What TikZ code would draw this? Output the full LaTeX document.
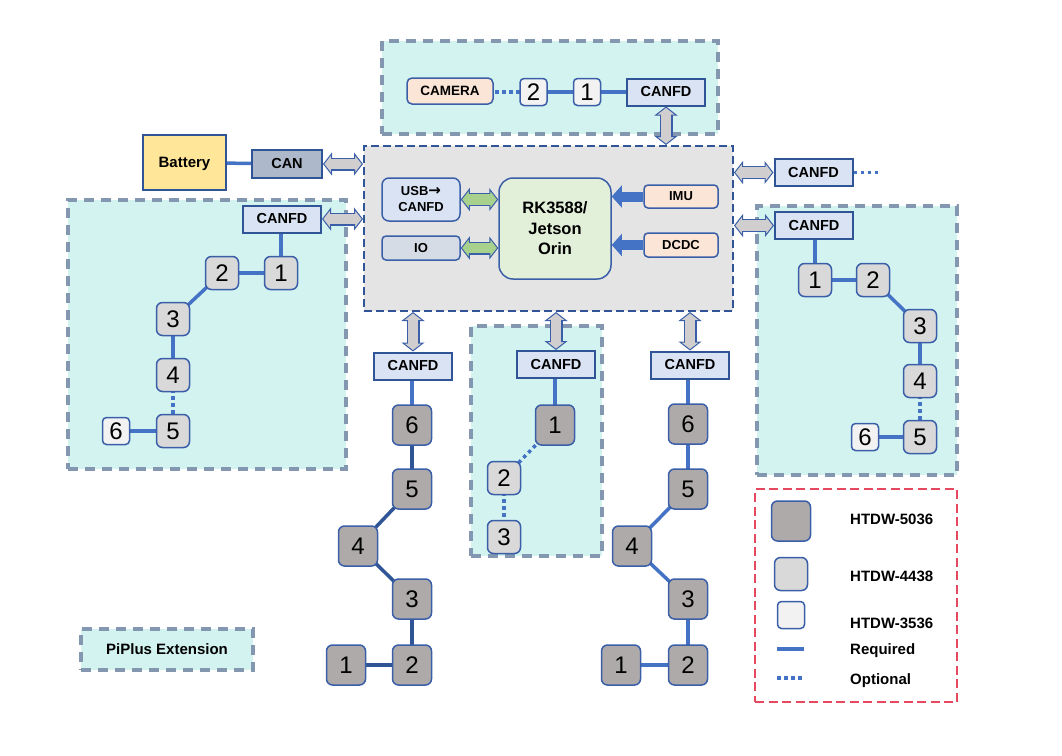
\documentclass[tikz,border=0pt]{standalone}
\usepackage{fontspec}
\setmainfont{Liberation Sans}
\newfontfamily\arrowfont{DejaVu Sans}
\usepackage{xcolor}
\usetikzlibrary{
  positioning,
  arrows.meta
}
\definecolor{edgeblue}{HTML}{3A5FA8}
\definecolor{linkblue}{HTML}{4472C4}
\definecolor{linkdark}{HTML}{2F5597}
\definecolor{zonefill}{HTML}{D3F3F0}
\definecolor{zonedash}{HTML}{8497B0}
\definecolor{coregray}{HTML}{E4E4E4}
\definecolor{legendred}{HTML}{E6495F}
\definecolor{busfill}{HTML}{DAE3F3}
\definecolor{iofill}{HTML}{D6DCE5}
\definecolor{canfill}{HTML}{ADB9CA}
\definecolor{socfill}{HTML}{E2F0D9}
\definecolor{peach}{HTML}{FBE5D6}
\definecolor{batteryfill}{HTML}{FFE699}
\definecolor{bigfill}{HTML}{AEAAAA}
\definecolor{midfill}{HTML}{D9D9D9}
\definecolor{smallfill}{HTML}{F2F2F2}
\definecolor{portgray}{HTML}{D0CECE}
\definecolor{portgreen}{HTML}{A9D18E}
\pgfdeclarelayer{zones}
\pgfdeclarelayer{links}
\pgfsetlayers{zones,links,main}

\begin{document}
\begin{tikzpicture}[
      x=1pt, y=-1pt,
      node distance=64pt,
      zone/.style={rectangle, draw=zonedash, fill=zonefill, line width=3.5pt, dash pattern=on 10pt off 7pt, inner sep=0pt},
      busbox/.style={rectangle, draw=linkdark, fill=busfill, line width=2pt, minimum width=78pt, minimum height=27pt, inner sep=0pt, font=\fontsize{14.5}{16}\bfseries},
      unit/.style={rectangle, rounded corners=4pt, draw=edgeblue, line width=1.5pt, inner sep=0pt, align=center, font=\fontsize{13}{16}\bfseries},
      bigjoint/.style={rectangle, rounded corners=6pt, draw=edgeblue, fill=bigfill, line width=1.5pt, minimum width=39pt, minimum height=40pt, inner sep=0pt, font=\fontsize{24}{26}\selectfont},
      midjoint/.style={bigjoint, fill=midfill, minimum width=33pt, minimum height=33pt},
      smalljoint/.style={bigjoint, rounded corners=4pt, fill=smallfill, minimum width=27pt, minimum height=27pt},
      required/.style={draw=linkblue, line width=3.5pt},
      requireddark/.style={draw=linkdark, line width=3.5pt},
      optional/.style={draw=linkblue, line width=3.5pt, dash pattern=on 3.5pt off 3.5pt},
      duplex/.style={draw=edgeblue, line width=13pt,
        {Triangle[length=9pt,width=23pt,fill=#1,line width=1pt]}-{Triangle[length=9pt,width=23pt,fill=#1,line width=1pt]},
        postaction={draw=#1, line width=10.5pt, -, shorten >=7pt, shorten <=7pt}},
      oneway/.style={draw=linkblue, line width=10pt, -{Triangle[length=10pt,width=22pt,fill=linkblue,line width=1pt]}},
      keylabel/.style={anchor=west, inner sep=0pt, font=\fontsize{15}{16}\bfseries}
    ]
      \useasboundingbox (0,0) rectangle (1062,755);

      % Zones
      \begin{pgfonlayer}{zones}
      \node[zone, minimum width=336pt, minimum height=93pt] (topzone) at (550,87.5) {};
      \node[zone, minimum width=278pt, minimum height=269pt] (leftzone) at (207,334.5) {};
      \node[zone, minimum width=200pt, minimum height=269pt] (rightzone) at (857,340.5) {};
      \node[zone, minimum width=131pt, minimum height=230pt] (midzone) at (536.5,441) {};
      \node[zone, minimum width=172pt, minimum height=41pt, font=\fontsize{15}{16}\bfseries] (extzone) at (167,649.5) {PiPlus Extension};
      \node[rectangle, draw=linkdark, fill=coregray, line width=2pt, dash pattern=on 8pt off 4pt, minimum width=369pt, minimum height=165pt] (core) at (548.5,228.5) {};
      \node[rectangle, draw=legendred, line width=2pt, dash pattern=on 9pt off 4.5pt, minimum width=202pt, minimum height=213pt] (legend) at (856,595.5) {};
      \end{pgfonlayer}

      % Core units
      \node[unit, rounded corners=14pt, fill=socfill, minimum width=112pt, minimum height=101pt, font=\fontsize{16.5}{20.5}\bfseries] (soc) at (555,228.5) {RK3588/\\Jetson\\Orin};
      \node[unit, rounded corners=7pt, fill=busfill, minimum width=78pt, minimum height=43pt] (usb) at (421,199.5) {USB{\arrowfont\fontsize{15}{16}\selectfont→}\\CANFD};
      \node[unit, fill=iofill, minimum width=78pt, minimum height=24pt] (io) at (421,248) {IO};
      \node[unit, fill=peach, minimum width=74pt, minimum height=23pt] (imu) at (681,196.5) {IMU};
      \node[unit, fill=peach, minimum width=74pt, minimum height=24pt] (dcdc) at (681,245) {DCDC};

      % Top chain
      \node[busbox] (bustop) at (666,92) {CANFD};
      \node[smalljoint] (t1) at (587,92) {1};
      \node[smalljoint] (t2) at (533.5,92) {2};
      \node[unit, rounded corners=5pt, fill=peach, minimum width=86pt, minimum height=26pt, font=\fontsize{13.5}{16}\bfseries] (camera) at (450,91) {CAMERA};

      % Battery
      \node[rectangle, draw=linkdark, fill=batteryfill, line width=2pt, minimum width=83pt, minimum height=55pt, text depth=0pt, font=\fontsize{15}{16}\bfseries] (battery) at (184.5,162.5) {Battery};
      \node[busbox, fill=canfill, minimum width=70pt, minimum height=28pt] (can) at (287,164) {CAN};

      % Left arm
      \node[busbox] (busleft) at (282,219) {CANFD};
      \node[midjoint] (l1) at (281,273) {1};
      \node[midjoint] (l2) at (222,273) {2};
      \node[midjoint] (l3) at (173,319) {3};
      \node[midjoint] (l4) at (173,375) {4};
      \node[midjoint] (l5) at (173,431) {5};
      \node[smalljoint] (l6) at (116,431) {6};

      % Right arm
      \node[busbox] (busaux) at (813.5,172.5) {CANFD};
      \coordinate (auxend) at (881,172.5);
      \node[busbox] (busright) at (814,225.5) {CANFD};
      \node[midjoint] (r1) at (815,280) {1};
      \node[midjoint] (r2) at (873,280) {2};
      \node[midjoint] (r3) at (920,326) {3};
      \node[midjoint] (r4) at (920,381) {4};
      \node[midjoint] (r5) at (920,437) {5};
      \node[smalljoint] (r6) at (865,437) {6};

      % Left leg
      \node[busbox] (busa) at (413,366) {CANFD};
      \node[bigjoint] (a6) at (412,425) {6};
      \node[bigjoint, below of=a6] (a5) {5};
      \node[bigjoint] (a4) at (358,546) {4};
      \node[bigjoint] (a3) at (412,599) {3};
      \node[bigjoint, below of=a3, node distance=66pt] (a2) {2};
      \node[bigjoint, left of=a2, node distance=66pt] (a1) {1};

      % Waist
      \node[busbox] (busw) at (556,364.5) {CANFD};
      \node[bigjoint] (w1) at (555,425) {1};
      \node[midjoint] (w2) at (504,478) {2};
      \node[midjoint] (w3) at (504,537) {3};

      % Right leg
      \node[busbox] (busb) at (690,365) {CANFD};
      \node[bigjoint] (b6) at (688,424) {6};
      \node[bigjoint] (b5) at (688,489) {5};
      \node[bigjoint] (b4) at (632,546) {4};
      \node[bigjoint] (b3) at (688,599) {3};
      \node[bigjoint, below of=b3, node distance=66pt] (b2) {2};
      \node[bigjoint, left of=b2, node distance=67pt] (b1) {1};

      % Legend
      \node[bigjoint] (key5036) at (791,521) {};
      \node[midjoint] (key4438) at (791,574) {};
      \node[smalljoint] (key3536) at (791,615) {};
      \coordinate (keyreqa) at (777,649);
      \coordinate (keyreqb) at (804,649);
      \coordinate (keyopta) at (777,678);
      \coordinate (keyoptb) at (804,678);
      \node[keylabel] (txt5036) at (850,519) {HTDW-5036};
      \node[keylabel] (txt4438) at (850,576) {HTDW-4438};
      \node[keylabel] (txt3536) at (850,623) {HTDW-3536};
      \node[keylabel] (txtreq) at (850,651) {Required};
      \node[keylabel] (txtopt) at (850,681) {Optional};

      % Chains
      \begin{pgfonlayer}{links}
      \draw[required] (bustop.center) -- (t1.center);
      \draw[required] (t1.center) -- (t2.center);
      \draw[optional] (t2.center) -- (camera.east |- t2);
      \draw[required] (battery.center) -- (can.center);
      \draw[required] (busleft.south -| l1) -- (l1.center);
      \draw[required] (l1.center) -- (l2.center);
      \draw[required] (l2.center) -- (l3.center);
      \draw[required] (l3.center) -- (l4.center);
      \draw[optional] (l4.center) -- (l5.center);
      \draw[required] (l5.center) -- (l6.center);
      \draw[optional] (busaux.east) -- (auxend);
      \draw[required] (busright.south -| r1) -- (r1.center);
      \draw[required] (r1.center) -- (r2.center);
      \draw[required] (r2.center) -- (r3.center);
      \draw[required] (r3.center) -- (r4.center);
      \draw[optional] (r4.center) -- (r5.center);
      \draw[required] (r5.center) -- (r6.center);
      \draw[required] (busa.south -| a6) -- (a6.center);
      \draw[requireddark] (a6.center) -- (a5.center);
      \draw[requireddark] (a5.center) -- (a4.center);
      \draw[requireddark] (a4.center) -- (a3.center);
      \draw[requireddark] (a3.center) -- (a2.center);
      \draw[requireddark] (a2.center) -- (a1.center);
      \draw[required] (busw.south -| w1) -- (w1.center);
      \draw[optional] (w1.center) -- (w2.center);
      \draw[optional] (w2.center) -- (w3.center);
      \draw[required] (busb.south -| b6) -- (b6.center);
      \draw[required] (b6.center) -- (b5.center);
      \draw[required] (b5.center) -- (b4.center);
      \draw[required] (b4.center) -- (b3.center);
      \draw[required] (b3.center) -- (b2.center);
      \draw[required] (b2.center) -- (b1.center);
      \draw[required] (keyreqa) -- (keyreqb);
      \draw[optional] (keyopta) -- (keyoptb);
      \end{pgfonlayer}

      % Links to the core
      \draw[duplex=portgray] (bustop.south) -- (bustop.south |- core.north);
      \draw[duplex=portgray] (can.east) -- (can.east -| core.west);
      \draw[duplex=portgray] (busleft.east) -- (busleft.east -| core.west);
      \draw[duplex=portgray] (busaux.west) -- (busaux.west -| core.east);
      \draw[duplex=portgray] (busright.west) -- (busright.west -| core.east);
      \draw[duplex=portgray] (busa.north) -- (busa.north |- core.south);
      \draw[duplex=portgray] (busw.north) -- (busw.north |- core.south);
      \draw[duplex=portgray] (busb.north) -- (busb.north |- core.south);
      \draw[duplex=portgreen] (usb.east) -- (usb.east -| soc.west);
      \draw[duplex=portgreen] (io.east) -- (io.east -| soc.west);
      \draw[oneway] (imu.west) -- (imu.west -| soc.east);
      \draw[oneway] (dcdc.west) -- (dcdc.west -| soc.east);
    \end{tikzpicture}
\end{document}
